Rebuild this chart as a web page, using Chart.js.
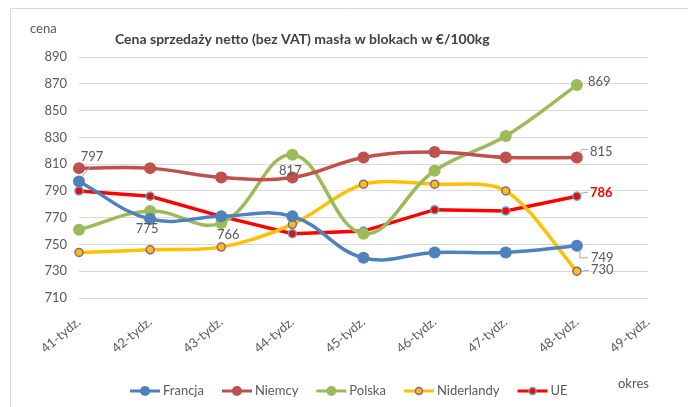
<!DOCTYPE html>
<html lang="pl">
<head>
<meta charset="utf-8">
<title>Cena sprzedaży netto masła w blokach</title>
<script src="https://cdn.jsdelivr.net/npm/chart.js@4.4.1/dist/chart.umd.min.js"></script>
<style>
    html, body { margin: 0; padding: 0; background: #fff; }
    .wrap { position: relative; width: 688px; height: 407px; }
</style>
</head>
<body>
<div class="wrap"><canvas id="maslo"></canvas></div>
<script>
// Dane
const tygodnie = ['41-tydz.', '42-tydz.', '43-tydz.', '44-tydz.', '45-tydz.', '46-tydz.', '47-tydz.', '48-tydz.', '49-tydz.'];
const francja = [797, 769, 771, 771, 740, 744, 744, 749];
const niemcy = [807, 807, 800, 800, 815, 819, 815, 815];
const polska = [761, 775, 766, 817, 758, 805, 831, 869];
const niderlandy = [744, 746, 748, 765, 795, 795, 790, 730];
const ue = [790, 786, 771, 758, 760, 776, 775, 786];
const osY = { min: 710, max: 890, krok: 20 };

const FONT = 'Lato, "Open Sans", sans-serif';
const SZARY = '#595959';

// Etykiety danych: [seria, punkt, dx, dy, wyrównanie, linia odniesienia]
const etykiety = [
    [0, 0, 13, -25, 'center', [[3, -5], [12, -16]]],
    [2, 1, -3, 18, 'center', null],
    [2, 2, 7, 12, 'center', null],
    [2, 3, -2, 16, 'center', null],
    [2, 7, 11, -3, 'left', null],
    [1, 7, 13, -6, 'left', [[2, -4], [5, -8], [11, -8]]],
    [4, 7, 13, -3, 'left', [[4, -3], [11, -4]]],
    [0, 7, 14, 12, 'left', [[3, 5], [3, 12], [11, 12]]],
    [3, 7, 14, -1, 'left', [[5, 0], [12, -1]]]
];

const dekoracje = {
    id: 'dekoracje',
    beforeDraw(chart) {
        const ctx = chart.ctx;
        ctx.save();
        ctx.strokeStyle = '#d9d9d9';
        ctx.lineWidth = 1;
        ctx.beginPath();
        ctx.moveTo(10.5, 420);
        ctx.lineTo(10.5, 8.5);
        ctx.lineTo(700, 8.5);
        ctx.stroke();
        ctx.restore();
    },
    afterDraw(chart) {
        const ctx = chart.ctx;
        ctx.save();
        ctx.textBaseline = 'middle';

        // tytuł i opisy osi
        ctx.fillStyle = '#404040';
        ctx.font = 'bold 14px ' + FONT;
        ctx.textAlign = 'left';
        ctx.fillText('Cena sprzedaży netto (bez VAT) masła w blokach w €/100kg', 115, 39);
        ctx.fillStyle = SZARY;
        ctx.font = '13px ' + FONT;
        ctx.fillText('cena', 30, 29);
        ctx.fillText('okres', 618, 384);

        // etykiety danych
        etykiety.forEach(([s, p, dx, dy, align, linia]) => {
            const pt = chart.getDatasetMeta(s).data[p];
            const ds = chart.data.datasets[s];
            if (linia) {
                ctx.strokeStyle = '#a6a6a6';
                ctx.lineWidth = 1;
                ctx.beginPath();
                linia.forEach(([lx, ly], i) => {
                    if (i === 0) ctx.moveTo(pt.x + lx, pt.y + ly);
                    else ctx.lineTo(pt.x + lx, pt.y + ly);
                });
                ctx.stroke();
            }
            ctx.textAlign = align;
            if (s === 4) {
                ctx.fillStyle = '#ff0000';
                ctx.font = 'bold 13px ' + FONT;
            } else {
                ctx.fillStyle = SZARY;
                ctx.font = '13px ' + FONT;
            }
            ctx.fillText(String(ds.data[p]), pt.x + dx, pt.y + dy);
        });

        // legenda
        let x = 130;
        const y = 391;
        ctx.font = '13px ' + FONT;
        ctx.textAlign = 'left';
        chart.data.datasets.forEach(ds => {
            ctx.strokeStyle = ds.borderColor;
            ctx.lineWidth = 3;
            ctx.beginPath();
            ctx.moveTo(x, y);
            ctx.lineTo(x + 30, y);
            ctx.stroke();
            ctx.beginPath();
            ctx.arc(x + 15, y, ds.pointRadius > 5 ? 5 : 3.5, 0, Math.PI * 2);
            ctx.fillStyle = ds.pointBackgroundColor;
            ctx.fill();
            if (ds.pointBorderWidth) {
                ctx.lineWidth = 1.5;
                ctx.strokeStyle = ds.pointBorderColor;
                ctx.stroke();
            }
            ctx.fillStyle = SZARY;
            ctx.fillText(ds.label, x + 33, y);
            x += 33 + ctx.measureText(ds.label).width + 18;
        });
        ctx.restore();
    }
};

function seria(label, data, kolor, opcje) {
    return Object.assign({
        label: label,
        data: data,
        borderColor: kolor,
        backgroundColor: kolor,
        borderWidth: 3.5,
        pointRadius: 6,
        pointHoverRadius: 6,
        pointBackgroundColor: kolor,
        pointBorderColor: kolor,
        pointBorderWidth: 0,
        tension: 0.4,
        fill: false
    }, opcje || {});
}

const ctx = document.getElementById('maslo').getContext('2d');
const wykres = new Chart(ctx, {
    type: 'line',
    data: {
        labels: tygodnie,
        datasets: [
            seria('Francja', francja, '#4f81bd'),
            seria('Niemcy', niemcy, '#c0504d'),
            seria('Polska', polska, '#9bbb59'),
            seria('Niderlandy', niderlandy, '#ffc000', {
                pointRadius: 4, pointHoverRadius: 4,
                pointBorderColor: '#8064a2', pointBorderWidth: 1.5, tension: 0.3
            }),
            seria('UE', ue, '#ff0000', {
                pointRadius: 4, pointHoverRadius: 4,
                pointBorderColor: '#4bacc6', pointBorderWidth: 1.5, tension: 0
            })
        ]
    },
    options: {
        responsive: true,
        maintainAspectRatio: false,
        animation: false,
        layout: {
            padding: { left: 10, top: 57, right: 40, bottom: 39 }
        },
        plugins: {
            legend: { display: false },
            title: { display: false },
            tooltip: { enabled: false }
        },
        scales: {
            x: {
                offset: false,
                grid: { display: false },
                border: { display: false },
                ticks: {
                    color: SZARY,
                    font: { family: FONT, size: 13 },
                    minRotation: 40,
                    maxRotation: 40,
                    padding: 8,
                    autoSkip: false
                },
                afterFit(scale) { scale.height = 70; }
            },
            y: {
                min: osY.min,
                max: osY.max,
                grid: { color: '#d9d9d9', lineWidth: 1, drawTicks: false },
                border: { display: false },
                ticks: {
                    stepSize: osY.krok,
                    color: SZARY,
                    font: { family: FONT, size: 13 },
                    padding: 12
                },
                afterFit(scale) { scale.width = 69; }
            }
        }
    },
    plugins: [dekoracje]
});
</script>
</body>
</html>
